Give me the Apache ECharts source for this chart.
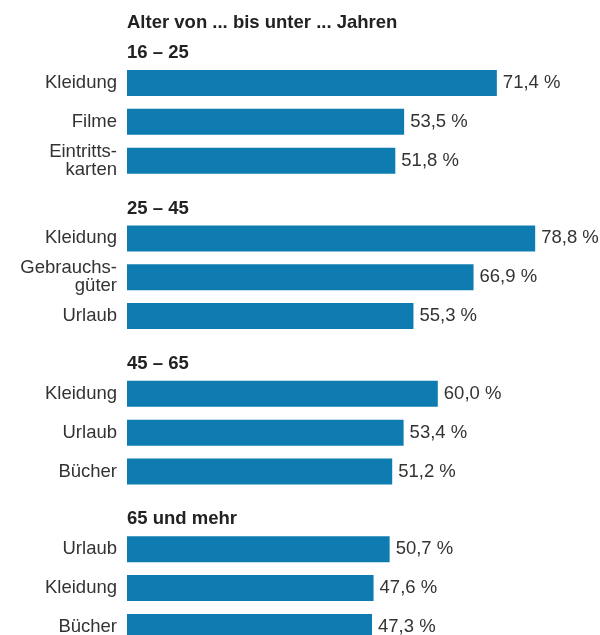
<!DOCTYPE html>
<html><head><meta charset="utf-8">
<script src="https://cdn.jsdelivr.net/npm/echarts@6/dist/echarts.min.js"></script>
<style>html,body{margin:0;padding:0;background:#fff;overflow:hidden}#c{width:645px;height:650px}</style>
</head><body><div id="c"></div>
<script>
const title = 'Alter von ... bis unter ... Jahren';
const groups = ['16 – 25', '25 – 45', '45 – 65', '65 und mehr'];
const categories = [
  ['Kleidung', 'Filme', 'Eintritts-\nkarten'],
  ['Kleidung', 'Gebrauchs-\ngüter', 'Urlaub'],
  ['Kleidung', 'Urlaub', 'Bücher'],
  ['Urlaub', 'Kleidung', 'Bücher']
];
const values = [
  [71.4, 53.5, 51.8],
  [78.8, 66.9, 55.3],
  [60.0, 53.4, 51.2],
  [50.7, 47.6, 47.3]
];

const rows = [], barData = [], headData = [];
groups.forEach((g, gi) => {
  rows.push('');
  barData.push('-');
  headData.push({value: 0, name: g});
  categories[gi].forEach((c, ci) => {
    rows.push(c);
    barData.push(values[gi][ci]);
    headData.push('-');
  });
});

const font = 'Liberation Sans, Arial, sans-serif';
const chart = echarts.init(document.getElementById('c'), null, {renderer: 'canvas'});
chart.setOption({
  animation: false,
  title: {
    text: title, left: 127, top: 13, padding: 0,
    textStyle: {fontFamily: font, fontSize: 18.5, fontWeight: 'bold', color: '#222'}
  },
  grid: {left: 127, top: 24.7, width: 518, height: 621.6, containLabel: false},
  xAxis: {type: 'value', min: 0, max: 100, show: false},
  yAxis: {
    type: 'category', data: rows, inverse: true,
    axisLine: {show: false}, axisTick: {show: false}, splitLine: {show: false},
    axisLabel: {fontFamily: font, fontSize: 18.5, color: '#333', margin: 10, lineHeight: 18, align: 'right'}
  },
  series: [
    {
      type: 'bar', data: barData, barWidth: 26, barGap: '-100%',
      itemStyle: {color: '#0E7CB0'},
      label: {
        show: true, position: 'right', distance: 6,
        fontFamily: font, fontSize: 18.5, color: '#333',
        formatter: p => p.value.toFixed(1).replace('.', ',') + ' %'
      }
    },
    {
      type: 'bar', data: headData, barWidth: 26,
      itemStyle: {color: 'transparent'},
      label: {
        show: true, position: 'right', distance: 0, offset: [0, 9],
        fontFamily: font, fontSize: 18.5, fontWeight: 'bold', color: '#222',
        formatter: p => p.name
      }
    }
  ]
});
</script></body></html>
